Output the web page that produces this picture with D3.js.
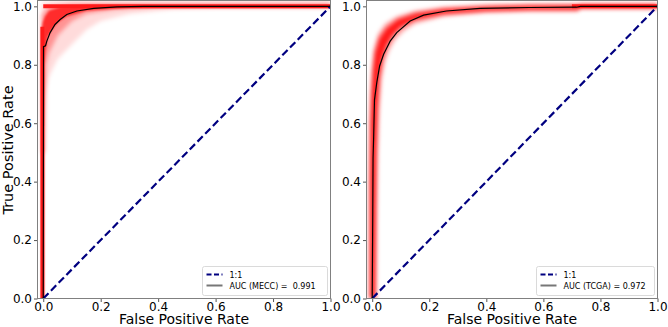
<!DOCTYPE html>
<html>
<head>
<meta charset="utf-8">
<script src="https://cdn.jsdelivr.net/npm/d3@7"></script>
<style>
  body { margin: 0; background: #fff; }
  text { font-family: "DejaVu Sans", sans-serif; }
</style>
</head>
<body>
<script>
// ticks -------------------------------------------------------------------
var tickVals = [0, 0.2, 0.4, 0.6, 0.8, 1.0];

// MECC panel (left) -------------------------------------------------------
var meccFpr = [0, 0.001, 0.008, 0.0125, 0.024, 0.041, 0.059, 0.082, 0.117, 0.176, 0.257, 0.35, 1.0];
var meccTpr = [0, 0.862, 0.865, 0.881, 0.91, 0.938, 0.955, 0.972, 0.984, 0.993, 0.998, 1.0, 1.0];
// bootstrap spread, read as closed outlines (strong / medium / faint)
var meccStrongFpr = [-0.006, -0.006, -0.002, 0.006, 0.02, 0.06, 0.15, 1.0, 1.0, 0.3, 0.15, 0.08, 0.05, 0.03, 0.015, 0.008, 0.004, 0.003];
var meccStrongTpr = [0, 0.92, 0.945, 0.965, 0.985, 0.998, 1.004, 1.004, 0.996, 0.994, 0.985, 0.965, 0.945, 0.92, 0.895, 0.85, 0.8, 0];
var meccMidFpr = [-0.006, -0.006, 0.02, 0.1, 1.0, 1.0, 0.4, 0.25, 0.15, 0.1, 0.05, 0.02, 0.01, 0.006];
var meccMidTpr = [0.5, 0.97, 1.0, 1.01, 1.01, 0.997, 0.997, 0.99, 0.975, 0.95, 0.9, 0.84, 0.8, 0.5];
var meccFaintFpr = [-0.006, -0.006, 0.05, 1.0, 1.0, 0.6, 0.45, 0.3, 0.2, 0.15, 0.1, 0.05, 0.02, 0.005];
var meccFaintTpr = [0.6, 1.015, 1.018, 1.018, 0.995, 0.995, 0.99, 0.975, 0.95, 0.92, 0.87, 0.82, 0.76, 0.7];

// TCGA panel (right) ------------------------------------------------------
var tcgaFpr = [0, 0.002, 0.003, 0.005, 0.008, 0.016, 0.026, 0.04, 0.063, 0.086, 0.133, 0.18, 0.26, 0.378, 0.55, 0.716, 0.73, 1.0];
var tcgaTpr = [0, 0.3, 0.48, 0.55, 0.68, 0.739, 0.796, 0.836, 0.881, 0.91, 0.95, 0.97, 0.984, 0.993, 0.996, 0.997, 1.0, 1.0];
var tcgaStrongFpr = [-0.007, -0.007, -0.005, -0.002, 0.003, 0.01, 0.025, 0.05, 0.09, 0.15, 0.25, 0.4, 0.55, 0.72, 0.73, 1.0,
                     1.0, 0.73, 0.72, 0.55, 0.4, 0.25, 0.15, 0.1, 0.07, 0.05, 0.035, 0.025, 0.018, 0.014, 0.012, 0.01];
var tcgaStrongTpr = [0, 0.4, 0.6, 0.7, 0.78, 0.84, 0.89, 0.925, 0.955, 0.975, 0.99, 0.998, 1.002, 1.003, 1.006, 1.006,
                     0.994, 0.994, 0.988, 0.988, 0.985, 0.975, 0.955, 0.93, 0.9, 0.865, 0.82, 0.76, 0.65, 0.5, 0.3, 0];
var tcgaSoftFpr = [-0.012, -0.012, -0.01, -0.006, -0.001, 0.005, 0.02, 0.045, 0.085, 0.15, 0.25, 0.4, 0.55, 0.72, 0.73, 1.0,
                   1.0, 0.73, 0.72, 0.55, 0.4, 0.25, 0.15, 0.11, 0.08, 0.06, 0.045, 0.033, 0.025, 0.02, 0.017, 0.015];
var tcgaSoftTpr = [0, 0.4, 0.6, 0.7, 0.79, 0.855, 0.905, 0.94, 0.965, 0.985, 0.998, 1.006, 1.008, 1.008, 1.008, 1.008,
                   0.992, 0.992, 0.982, 0.982, 0.978, 0.965, 0.94, 0.915, 0.885, 0.85, 0.81, 0.75, 0.64, 0.5, 0.3, 0];

var W = 668, H = 327;
var svg = d3.select("body").append("svg").attr("width", W).attr("height", H);

var defs = svg.append("defs");
defs.append("filter").attr("id", "blur2").attr("x", "-20%").attr("y", "-20%").attr("width", "140%").attr("height", "140%")
  .append("feGaussianBlur").attr("stdDeviation", 2);
defs.append("filter").attr("id", "blur1").attr("x", "-20%").attr("y", "-20%").attr("width", "140%").attr("height", "140%")
  .append("feGaussianBlur").attr("stdDeviation", 1);

function zipPts(xs, ys) {
  return xs.map(function(d, i) { return [d, ys[i]]; });
}

//Panel--------------------------------------------------------------------------------
function drawPanel(p) {
  var x = d3.scaleLinear().domain([-0.02, 1.0]).range([p.left, p.right]);
  var y = d3.scaleLinear().domain([0, 1.02]).range([p.bottom, p.top]);
  var line = d3.line().x(function(d) { return x(d[0]); }).y(function(d) { return y(d[1]); });
  var closed = d3.line().curve(d3.curveLinearClosed)
    .x(function(d) { return x(d[0]); }).y(function(d) { return y(d[1]); });

  var clipId = "clip" + p.id;
  defs.append("clipPath").attr("id", clipId).append("rect")
    .attr("x", p.left).attr("y", p.top).attr("width", p.right - p.left).attr("height", p.bottom - p.top);

  var g = svg.append("g").attr("clip-path", "url(#" + clipId + ")");

  // spread of the resampled curves
  p.bands.forEach(function(b) {
    g.append("path")
      .attr("d", closed(zipPts(b.fpr, b.tpr)))
      .attr("fill", "#ff0000")
      .attr("fill-opacity", b.op)
      .attr("filter", "url(#" + b.blur + ")");
  });
  // edges where all curves pile up
  if (p.sideTo > 0) {
    g.append("path").attr("d", line([[-0.003, 0], [-0.003, p.sideTo]]))
      .attr("stroke", "#ff1a1a").attr("stroke-width", 4).attr("fill", "none");
  }
  g.append("path").attr("d", line([[p.topFrom, 1.0], [1.0, 1.0]]))
    .attr("stroke", "#ff1a1a").attr("stroke-width", 4).attr("fill", "none");

  // 1:1 diagonal
  g.append("path").attr("d", line([[0, 0], [1, 1]]))
    .attr("stroke", "#000080").attr("stroke-width", 2.2)
    .attr("stroke-dasharray", "7.5,3.5").attr("fill", "none");

  // mean curve
  g.append("path").attr("d", line(zipPts(p.fpr, p.tpr)))
    .attr("stroke", "#000").attr("stroke-width", 1.2).attr("fill", "none");

  // axes
  var fmt = d3.format(".1f");
  var xa = svg.append("g").attr("transform", "translate(0," + p.bottom + ")")
    .call(d3.axisBottom(x).tickValues(tickVals).tickFormat(fmt).tickSize(3.5).tickPadding(0.5));
  var ya = svg.append("g").attr("transform", "translate(" + p.left + ",0)")
    .call(d3.axisLeft(y).tickValues(tickVals).tickFormat(fmt).tickSize(3.5).tickPadding(2));
  [xa, ya].forEach(function(a) {
    a.select(".domain").remove();
    a.selectAll(".tick line").attr("stroke", "#555");
    a.selectAll(".tick text").attr("fill", "#000").style("font-size", "12px")
      .style("font-family", "DejaVu Sans, sans-serif");
  });

  svg.append("rect")
    .attr("x", p.left).attr("y", p.top)
    .attr("width", p.right - p.left).attr("height", p.bottom - p.top)
    .attr("fill", "none").attr("stroke", "#808080").attr("stroke-width", 1);

  svg.append("text")
    .attr("x", (p.left + p.right) / 2).attr("y", 323.5)
    .attr("text-anchor", "middle").style("font-size", "14px")
    .text("False Positive Rate");

  // legend
  var lw = p.legendW, lh = 29;
  var lx = p.right - 3 - lw, ly = p.bottom - 3 - lh;
  var lg = svg.append("g").attr("transform", "translate(" + lx + "," + ly + ")");
  lg.append("rect").attr("width", lw).attr("height", lh).attr("rx", 2)
    .attr("fill", "#fff").attr("fill-opacity", 0.8).attr("stroke", "#d0d0d0").attr("stroke-width", 0.8);
  lg.append("line").attr("x1", 4).attr("x2", 20).attr("y1", 8).attr("y2", 8)
    .attr("stroke", "#000080").attr("stroke-width", 2).attr("stroke-dasharray", "5,2.5");
  lg.append("line").attr("x1", 4).attr("x2", 20).attr("y1", 19).attr("y2", 19)
    .attr("stroke", "#777").attr("stroke-width", 2);
  lg.append("text").attr("x", 27).attr("y", 11).style("font-size", "8px").text("1:1");
  lg.append("text").attr("x", 27).attr("y", 22).style("font-size", "8px")
    .attr("xml:space", "preserve").text(p.legendText);
}

drawPanel({
  id: "a", left: 37.5, right: 330.5, top: 0.5, bottom: 298.5,
  fpr: meccFpr, tpr: meccTpr, topFrom: 0.0, sideTo: 0.93,
  bands: [
    { fpr: meccFaintFpr, tpr: meccFaintTpr, op: 0.14, blur: "blur2" },
    { fpr: meccMidFpr, tpr: meccMidTpr, op: 0.33, blur: "blur2" },
    { fpr: meccStrongFpr, tpr: meccStrongTpr, op: 0.7, blur: "blur1" }
  ],
  legendW: 125, legendText: "AUC (MECC) =  0.991"
});

drawPanel({
  id: "b", left: 366.5, right: 657.5, top: 0.5, bottom: 298.5,
  fpr: tcgaFpr, tpr: tcgaTpr, topFrom: 0.7, sideTo: 0,
  bands: [
    { fpr: tcgaSoftFpr, tpr: tcgaSoftTpr, op: 0.35, blur: "blur2" },
    { fpr: tcgaStrongFpr, tpr: tcgaStrongTpr, op: 0.85, blur: "blur2" }
  ],
  legendW: 118, legendText: "AUC (TCGA) = 0.972"
});

svg.append("text")
  .attr("transform", "translate(13,150) rotate(-90)")
  .attr("text-anchor", "middle").style("font-size", "14.5px")
  .text("True Positive Rate");
</script>
</body>
</html>
